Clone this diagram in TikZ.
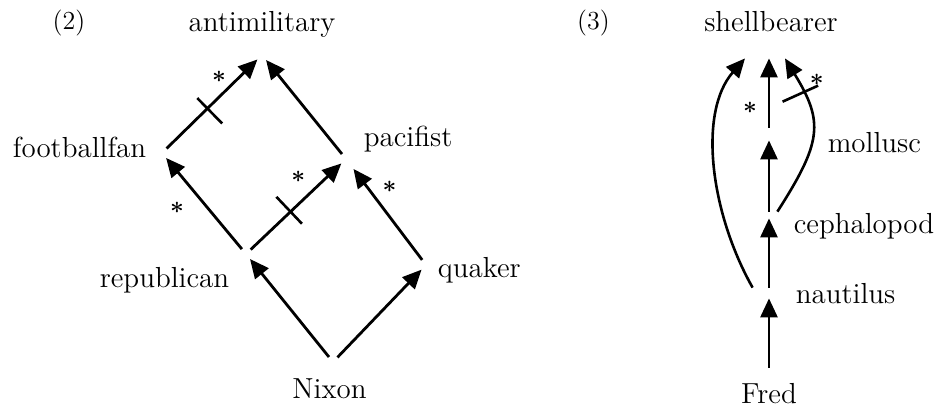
\documentclass[tikz,border=0pt]{standalone}
\usepackage{fontspec}
\usepackage{tikz}
\usetikzlibrary{arrows.meta, decorations.markings}
\tikzset{
    vertex/.style={
        circle,
        inner sep=0pt,
        minimum size=6pt
    },
    chainpt/.style={
        rectangle,
        inner sep=0pt,
        minimum width=1pt,
        minimum height=5pt
    },
    conceptlabel/.style={
        inner sep=0pt,
        font=\fontsize{14.5}{17}\selectfont
    },
    panellabel/.style={
        inner sep=0pt,
        anchor=base,
        font=\fontsize{13}{15}\selectfont
    },
    starmark/.style={
        inner sep=0pt,
        font=\fontsize{12}{12}\selectfont\boldmath
    },
    link/.style={
        -{Triangle[length=9.5pt, width=8.5pt]},
        line width=1.4pt
    },
    curvelink/.style={
        link,
        line width=1.3pt
    },
    % crossing stroke: position, extent to the left, extent to the right
    negtick/.style n args={3}{
        postaction={decorate},
        decoration={markings,
            mark=at position #1 with {\draw[-, line width=1.3pt] (0,#2) -- (0,#3);}}
    }
}

\begin{document}
\begin{tikzpicture}[x=0.5pt, y=-0.5pt]
    \useasboundingbox (0,0) rectangle (934,409);

    % (2) the Nixon diamond
    \node[panellabel] (tagtwo) at (69,29) {(2)};
    \node[vertex, label={[conceptlabel, anchor=base, label distance=8.5pt]90:antimilitary}] (anti) at (262,55) {};
    \node[vertex, label={[conceptlabel, anchor=base east, label distance=4.5pt, yshift=-2pt]180:footballfan}] (fan) at (162,153) {};
    \node[vertex, label={[conceptlabel, anchor=base west, label distance=5.5pt, yshift=6.5pt]0:pacifist}] (pacif) at (346,159) {};
    \node[vertex, label={[conceptlabel, anchor=base east, label distance=5pt, yshift=-16.5pt]180:republican}] (repub) at (246,254) {};
    \node[vertex, label={[conceptlabel, anchor=base west, label distance=2.5pt, yshift=-6pt]0:quaker}] (quak) at (426,265) {};
    \node[vertex, label={[conceptlabel, anchor=base, label distance=15pt, xshift=-1.75pt]-90:Nixon}] (nixon) at (333,362) {};

    \draw[link, negtick={0.45}{7.3pt}{-10.5pt}] (fan) -- node[starmark, pos=0.69, xshift=-5.1pt, yshift=5.3pt] (fanstar) {$\ast$} (anti);
    \draw[link] (pacif) -- (anti);
    \draw[link] (repub) -- node[starmark, pos=0.62, xshift=-9pt, yshift=-7.6pt] (repstar) {$\ast$} (fan);
    \draw[link, negtick={0.44}{10.25pt}{-8.25pt}] (repub) -- node[starmark, pos=0.68, xshift=-7pt, yshift=7.2pt] (pacstar) {$\ast$} (pacif);
    \draw[link, shorten >=3pt] (quak) -- node[starmark, pos=0.65, xshift=7.2pt, yshift=5.6pt] (quakstar) {$\ast$} (pacif);
    \draw[link] (nixon) -- (repub);
    \draw[link] (nixon) -- (quak);

    % (3) the shellbearer chain
    \node[panellabel] (tagthree) at (593.5,29) {(3)};
    \node[chainpt, minimum height=4pt, label={[conceptlabel, anchor=base, label distance=9pt, xshift=1pt]90:shellbearer}] (shell) at (769,54) {};
    \node[chainpt, minimum height=6pt, label={[conceptlabel, anchor=base west, label distance=28.5pt, yshift=-9pt]0:mollusc}] (moll) at (769,134) {};
    \node[chainpt, minimum height=3pt, minimum width=8pt, label={[conceptlabel, anchor=base west, label distance=8pt, yshift=-9pt]0:cephalopod}] (ceph) at (769,215) {};
    \node[chainpt, minimum width=16pt, label={[conceptlabel, anchor=base west, label distance=5pt, yshift=-5pt]0:nautilus}] (naut) at (769,293) {};
    \node[chainpt, label={[conceptlabel, anchor=base, label distance=12.5pt]-90:Fred}] (fred) at (769,373) {};

    \draw[link] (fred) -- (naut);
    \draw[link] (naut) -- (ceph);
    \draw[link] (ceph) -- (moll);
    \draw[link] (moll) -- node[starmark, pos=0.29, xshift=-9.5pt] (mollstar) {$\ast$} (shell);
    \draw[curvelink] (naut.north west) .. controls (710,212) and (698,112) .. ([xshift=-12pt]shell.south);
    \draw[curvelink, negtick={0.77}{11.5pt}{-8pt}] (ceph.north east) .. controls (822,142) and (824,122) .. node[starmark, pos=0.8, xshift=6.6pt, yshift=6.2pt] (curvestar) {$\ast$} ([xshift=8pt]shell.south);
\end{tikzpicture}
\end{document}
